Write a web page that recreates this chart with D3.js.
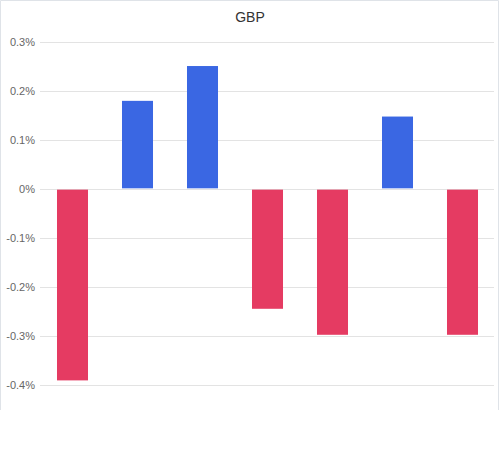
<!DOCTYPE html>
<html><head><meta charset="utf-8">
<script src="https://cdn.jsdelivr.net/npm/d3@7"></script>
<style>body{margin:0;background:#fff;font-family:"Liberation Sans",Arial,sans-serif;}</style>
</head><body>
<svg id="c" width="500" height="458"></svg>
<script>
const categories = ["1","2","3","4","5","6","7"];
const values = [-0.39, 0.18, 0.251, -0.244, -0.297, 0.148, -0.297];
const tickValues = [0.3, 0.2, 0.1, 0, -0.1, -0.2, -0.3, -0.4];
const title = "GBP";

const svg = d3.select("#c");
svg.append("path").attr("d","M0.5,410V0.5H498.5V410")
  .attr("fill","none").attr("stroke","#dfe3e8").attr("stroke-width",1);

const x = d3.scaleBand().domain(categories).range([40,495]).paddingInner(0.523).paddingOuter(0.2615);
const y = d3.scaleLinear().domain([-0.4,0.3]).range([385.3,42]);

const grid = svg.append("g");
grid.selectAll("line").data(tickValues).join("line")
  .attr("x1",40).attr("x2",494).attr("y1",d=>Math.round(y(d))+0.5).attr("y2",d=>Math.round(y(d))+0.5)
  .attr("stroke","#e3e3e3").attr("stroke-width",1);

const yAxis = d3.axisLeft(y).tickValues(tickValues).tickSize(0).tickPadding(0)
  .tickFormat(d => (d===0 ? "0" : (d<0?"-":"") + Math.abs(d).toFixed(1)) + "%");
const ga = svg.append("g").attr("transform","translate(35,0)").call(yAxis);
ga.select(".domain").remove();
ga.selectAll("text").attr("fill","#666").style("font-size","11px").style("font-family","'Liberation Sans',Arial,sans-serif");

svg.append("g").selectAll("rect").data(values).join("rect")
  .attr("x",(d,i)=>x(categories[i]))
  .attr("width",x.bandwidth())
  .attr("y",d=> d>=0 ? y(d) : y(0)+0.5)
  .attr("height",d=> Math.abs(y(d)-y(0)) - (d>=0?0.8:0.5))
  .attr("fill",d=> d>=0 ? "#3a67e3" : "#e53b62");

svg.append("text").attr("x",250).attr("y",22).attr("text-anchor","middle")
  .attr("fill","#333").style("font-size","14px").text(title);
</script>
</body></html>
